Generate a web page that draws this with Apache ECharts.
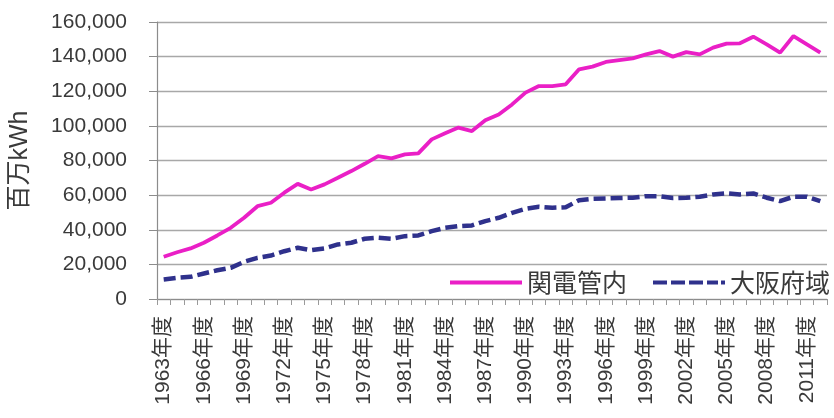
<!DOCTYPE html>
<html>
<head>
<meta charset="utf-8">
<script src="https://cdn.jsdelivr.net/npm/echarts@6/dist/echarts.min.js"></script>
<style>
  html, body { margin: 0; padding: 0; background: #ffffff; }
  #chart { width: 834px; height: 418px; }
</style>
</head>
<body>
<div id="chart"></div>
<script>
// 年度 (fiscal years 1963–2012)
const years = [];
for (let y = 1963; y <= 2012; y++) years.push(y + '年度');

// 関電管内 electricity demand (百万kWh)
const kandenValues = [
  24400, 27000, 29200, 32500, 36700, 41100, 46900, 53600, 55600, 61400,
  66500, 63300, 66200, 70000, 73900, 78100, 82500, 81200, 83500, 84100,
  92200, 95700, 99000, 97000, 103200, 106600, 112400, 119200, 123000, 123000,
  124000, 132700, 134200, 136900, 138000, 139000, 141300, 143200, 140000, 142600,
  141300, 145200, 147500, 147700, 151500, 147100, 142300, 151900, 147100, 142300
];

// 大阪府域 electricity demand (百万kWh)
const osakaValues = [
  11300, 12200, 12800, 14700, 16600, 18000, 21500, 23800, 25100, 27600,
  29600, 28200, 29200, 31500, 32500, 34800, 35400, 34800, 36300, 36700,
  39200, 41100, 42100, 42500, 45000, 46900, 49800, 52100, 53300, 52700,
  53000, 57100, 57900, 58100, 58300, 58500, 59400, 59400, 58300, 58500,
  59100, 60400, 61000, 60400, 61000, 58500, 56500, 59100, 59100, 56500
];

// Value axis ticks
const yMin = 0, yMax = 160000, yStep = 20000;

const seriesNames = ['関電管内', '大阪府域'];
const fontStack = "'Liberation Sans', 'Noto Sans CJK JP', sans-serif";
const textColor = '#3a3a3a';
const pink = '#ea1fc6';
const navy = '#2f318c';

// Legend keys: a solid bar and a dashed bar ending in a dot
const solidKey = 'path://M0,0H72V4H0Z';
const dashedKey = 'path://M0,0H14V4H0Z M18,0H32V4H18Z M36,0H50V4H36Z M54,0H65V4H54Z M68,0H72V4H68Z';

const chart = echarts.init(document.getElementById('chart'));
chart.setOption({
  backgroundColor: '#ffffff',
  animation: false,
  grid: { left: 153, right: 7, top: 22, bottom: 119, containLabel: false },
  legend: {
    data: [
      { name: seriesNames[0], icon: solidKey, itemStyle: { color: pink } },
      { name: seriesNames[1], icon: dashedKey, itemStyle: { color: navy } }
    ],
    left: 450,
    top: 270,
    itemWidth: 72,
    itemHeight: 4,
    itemGap: 26,
    padding: 0,
    textStyle: { fontSize: 25, color: textColor, fontFamily: "'Noto Sans CJK JP', sans-serif" }
  },
  xAxis: {
    type: 'category',
    data: years,
    boundaryGap: true,
    axisLine: { lineStyle: { color: '#8c8c8c', width: 1.2 } },
    axisTick: { show: true, interval: 0, length: 6, lineStyle: { color: '#9a9a9a' } },
    axisLabel: {
      interval: 2,
      rotate: 90,
      margin: 17,
      fontSize: 21,
      color: textColor,
      fontFamily: fontStack
    },
    splitLine: { show: false }
  },
  yAxis: {
    type: 'value',
    min: yMin,
    max: yMax,
    interval: yStep,
    name: '百万kWh',
    nameLocation: 'middle',
    nameGap: 124,
    nameRotate: 90,
    nameTextStyle: { fontSize: 25, color: textColor, fontFamily: fontStack },
    axisLine: { show: true, lineStyle: { color: '#8c8c8c', width: 1.2 } },
    axisTick: { show: true, length: 8, lineStyle: { color: '#8c8c8c' } },
    axisLabel: {
      margin: 30,
      fontSize: 21,
      color: textColor,
      fontFamily: fontStack,
      formatter: v => v.toLocaleString('en-US')
    },
    splitLine: { show: true, lineStyle: { color: '#a8a8a8', width: 1.3 } }
  },
  series: [
    {
      name: seriesNames[0],
      type: 'line',
      data: kandenValues,
      symbol: 'none',
      lineStyle: { color: pink, width: 3.8 },
      itemStyle: { color: pink },
      z: 3
    },
    {
      name: seriesNames[1],
      type: 'line',
      data: osakaValues,
      symbol: 'none',
      lineStyle: { color: navy, width: 4.5, type: [12, 5] },
      itemStyle: { color: navy },
      z: 2
    }
  ]
});
</script>
</body>
</html>
